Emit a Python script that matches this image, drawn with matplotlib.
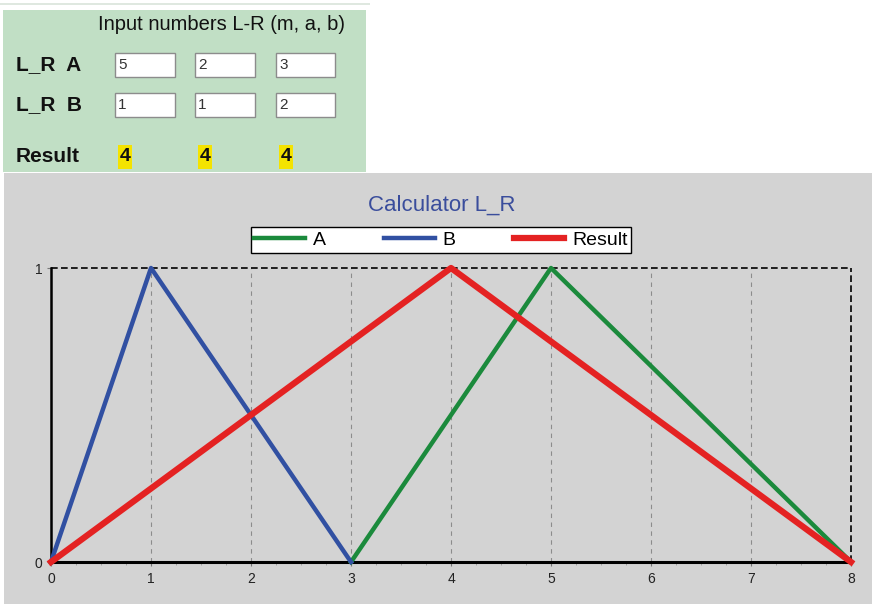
import matplotlib
matplotlib.use("Agg")
from matplotlib import pyplot as plt
from matplotlib.patches import Rectangle

# input panel values
row_labels = ["L_R  A", "L_R  B"]
a_vals = ["5", "2", "3"]
b_vals = ["1", "1", "2"]
result_vals = ["4", "4", "4"]

# chart series
x_a = [3, 5, 8]
y_a = [0, 1, 0]
x_b = [0, 1, 3]
y_b = [0, 1, 0]
x_r = [0, 4, 8]
y_r = [0, 1, 0]
x_ticks = [0, 1, 2, 3, 4, 5, 6, 7, 8]
y_ticks = [0, 1]

W, H = 872, 604
fig = plt.figure(figsize=(W / 100, H / 100), dpi=100)
fig.patch.set_facecolor("white")
plt.rcParams['font.family'] = ['Liberation Sans', 'DejaVu Sans']


def fx(x):
    return x / W


def fy(y):
    return 1 - y / H


def box(x0, y0, x1, y1, z=-10, **kw):
    r = Rectangle((fx(x0), fy(y1)), fx(x1) - fx(x0), fy(y0) - fy(y1),
                  transform=fig.transFigure, zorder=z, **kw)
    fig.patches.append(r)


# thin line above the panel
box(0, 3, 370, 5, facecolor="#dfe8e0", edgecolor="none")

# green input panel
box(3, 10, 366, 172, facecolor="#c1dfc5", edgecolor="none")
fig.text(fx(221), fy(25), "Input numbers L-R (m, a, b)", fontsize=14.5,
         ha="center", va="center", color="#111111")

cols = [(115, 175), (195, 255), (276, 335)]
rows = [(53, 77), (93, 117)]
for r, (vals, lab) in enumerate(zip([a_vals, b_vals], row_labels)):
    y0, y1 = rows[r]
    fig.text(fx(16), fy((y0 + y1) / 2), lab, fontsize=15, fontweight="bold",
             ha="left", va="center", color="#111111")
    for c, v in enumerate(vals):
        x0, x1 = cols[c]
        box(x0, y0, x1, y1, z=-9, facecolor="white", edgecolor="#8c8c8c", linewidth=1)
        fig.text(fx(x0 + 3), fy((y0 + y1) / 2), v, fontsize=11,
                 ha="left", va="center", color="#333333")

fig.text(fx(16), fy(157), "Result", fontsize=15, fontweight="bold",
         ha="left", va="center", color="#111111")
for c, v in enumerate(result_vals):
    xc = cols[c][0] + 10
    box(xc - 7, 145, xc + 7, 169, z=-9, facecolor="#f4e300", edgecolor="none")
    fig.text(fx(xc), fy(157), v, fontsize=14, fontweight="bold",
             ha="center", va="center", color="#111111")

# gray chart panel
box(4, 173, 872, 604, facecolor="#d3d3d3", edgecolor="none")
fig.text(fx(442), fy(205), "Calculator L_R", fontsize=16,
         ha="center", va="center", color="#3a4d9c")

ax = fig.add_axes([fx(51), fy(562), fx(851) - fx(51), fy(268) - fy(562)])
ax.set_facecolor("#d3d3d3")
ax.set_xlim(0, 8)
ax.set_ylim(0, 1)

for xv in x_ticks[1:-1]:
    ax.axvline(xv, color="#8c8c8c", linestyle=(0, (4, 4)), linewidth=0.8, zorder=1)
ax.axhline(1, color="black", linestyle=(0, (4, 2)), linewidth=1.2, zorder=1, clip_on=False)
ax.axvline(8, color="black", linestyle=(0, (4, 2)), linewidth=1.2, zorder=1, clip_on=False)

ax.plot(x_a, y_a, color="#1b8a3c", linewidth=3.2, label="A", zorder=3, clip_on=False)
ax.plot(x_b, y_b, color="#3150a2", linewidth=3.2, label="B", zorder=3, clip_on=False)
ax.plot(x_r, y_r, color="#e42222", linewidth=4.5, label="Result", zorder=4, clip_on=False)

for s in ["top", "right"]:
    ax.spines[s].set_visible(False)
ax.spines["left"].set_color("black")
ax.spines["left"].set_linewidth(1.8)
ax.spines["bottom"].set_color("black")
ax.spines["bottom"].set_linewidth(2.2)

ax.set_xticks(x_ticks)
ax.set_yticks(y_ticks)
ax.set_xticks([i / 4 for i in range(33)], minor=True)
ax.tick_params(axis="x", which="major", length=3, width=0.8, color="#777777",
               labelsize=10, labelcolor="#222222", pad=4)
ax.tick_params(axis="x", which="minor", length=2, width=0.6, color="#9a9a9a")
ax.tick_params(axis="y", length=3, width=0.8, color="#777777",
               labelsize=10, labelcolor="#222222", pad=3)

leg = fig.legend(loc="center", bbox_to_anchor=(fx(441), fy(240)), ncol=3,
                 fontsize=14, frameon=True, fancybox=False, framealpha=1,
                 edgecolor="black", facecolor="white", handlelength=2.6,
                 columnspacing=3.0, borderpad=0.2, handletextpad=0.4)
leg.get_frame().set_linewidth(1.0)

fig.savefig("out.png", dpi=100)
